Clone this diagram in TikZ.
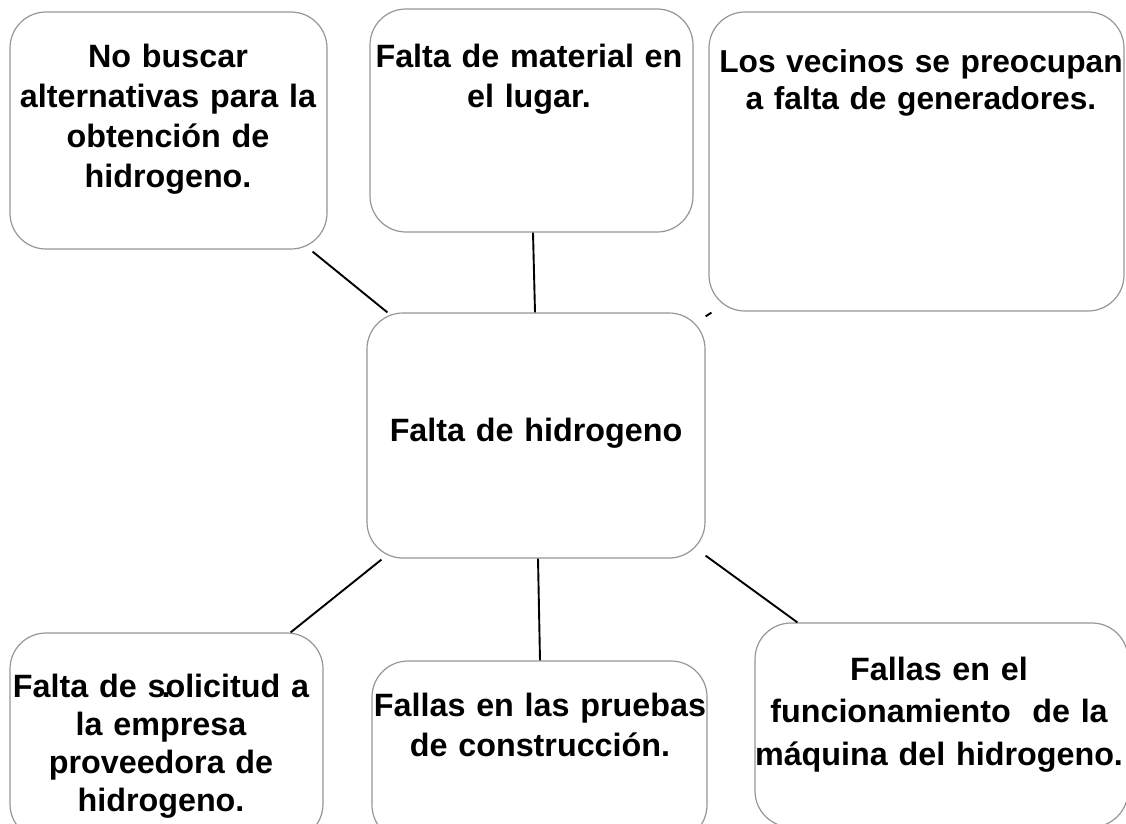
\documentclass[tikz,border=0pt]{standalone}
\usepackage{fontspec}
\setmainfont{Liberation Sans}
\usetikzlibrary{calc}
\definecolor{boxgray}{RGB}{150,150,150}
\tikzset{
  box/.style={draw=boxgray, line width=1.2pt, rounded corners=36pt, fill=white, inner sep=0pt},
  txt/.style={align=center, text width=460pt, anchor=base, inner sep=0pt,
    font=\bfseries\fontsize{32.3pt}{40pt}\selectfont},
  conn/.style={draw=black, line width=1.9pt}
}
\begin{document}
\begin{tikzpicture}[x=1pt,y=-1pt]
\useasboundingbox (0,0) rectangle (1126,823);
\clip (0,0) rectangle (1126,823);
% boxes
\node[box, minimum width=317pt, minimum height=237pt] (tl) at (168.5,130.5) {};
\node[box, minimum width=323pt, minimum height=223pt] (tm) at (531.5,120.5) {};
\node[box, minimum width=415pt, minimum height=299pt] (tr) at (916.5,161.5) {};
\node[box, minimum width=338pt, minimum height=245pt] (ctr) at (536,435.5) {};
\node[box, minimum width=313pt, minimum height=207pt] (bl) at (166.5,736.5) {};
\node[box, minimum width=335pt, minimum height=180pt] (bm) at (539.5,751) {};
\node[box, minimum width=373pt, minimum height=204pt] (br) at (941.5,725) {};
% texts
\node[txt] (tlt) at (168,67) {No buscar\\alternativas para la\\obtención de\\hidrogeno.};
\node[txt] (tmt) at (529,67) {Falta de material en\\el lugar.};
\node[txt, font=\bfseries\fontsize{31.7pt}{37pt}\selectfont] (trt) at (921,72) {Los vecinos se preocupan\\a falta de generadores.};
\node[txt] (ctrt) at (536,441) {Falta de hidrogeno};
\node[txt, font=\bfseries\fontsize{32.3pt}{38.3pt}\selectfont] (blt) at (161,697) {Falta de s\makebox[0pt][l]{\kern-4pt.}olicitud a\\la empresa\\proveedora de\\hidrogeno.};
\node[txt] (bmt) at (540,716) {Fallas en las pruebas\\de construcción.};
\node[txt, font=\bfseries\fontsize{32.3pt}{42.5pt}\selectfont] (brt) at (939,680) {Fallas en el\\funcionamiento~ de la\\máquina del hidrogeno.};
% connectors
\draw[conn] ($(tl.south east)+(-15,2)$) -- ($(ctr.north west)+(21,0)$);
\draw[conn] ($(tm.south)+(1.5,0)$) -- ($(ctr.north)+(-1,0)$);
\draw[conn] ($(tr.south west)+(3,1)$) -- ($(ctr.north east)+(0,4)$);
\draw[conn] ($(ctr.south west)+(15,1)$) -- ($(bl.north east)+(-33,0)$);
\draw[conn] ($(ctr.south)+(2,0)$) -- ($(bm.north)+(0.5,0)$);
\draw[conn] ($(ctr.south east)+(0,-3)$) -- ($(br.north west)+(43,0)$);
\end{tikzpicture}
\end{document}
